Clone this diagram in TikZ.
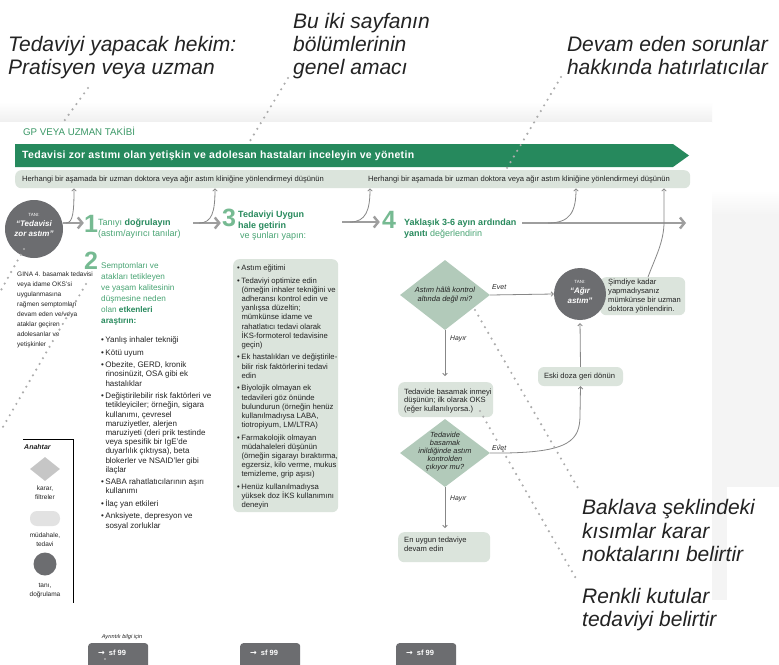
\documentclass[tikz,border=0pt]{standalone}
\usepackage{fontspec}
\setmainfont{Liberation Sans}
\newfontfamily\arrowfont{DejaVu Sans}
\usetikzlibrary{arrows.meta,shapes.geometric,calc}
\definecolor{bargreen}{RGB}{38,137,93}
\definecolor{headgreen}{RGB}{40,138,93}
\definecolor{lightgreen}{RGB}{72,164,115}
\definecolor{numgreen}{RGB}{118,186,146}
\definecolor{gpgreen}{RGB}{58,152,102}
\definecolor{boxfill}{RGB}{219,228,220}
\definecolor{diafill}{RGB}{178,202,186}
\definecolor{circgray}{RGB}{108,109,112}
\definecolor{arrowgray}{RGB}{158,158,158}
\definecolor{thingray}{RGB}{135,135,135}
\definecolor{dotgray}{RGB}{172,172,172}
\definecolor{textdark}{RGB}{35,35,35}
\definecolor{keygray}{RGB}{198,198,198}
\definecolor{keylight}{RGB}{226,226,226}
\definecolor{shadowgray}{RGB}{244,244,244}
\newcommand{\fsz}[2]{\fontsize{#1}{#2}\selectfont}
\newcommand{\bulit}{\makebox[4.3pt][l]{\textbullet}}
\newcommand{\indt}{\hspace*{4.3pt}}
\begin{document}
\begin{tikzpicture}[x=1pt,y=-1pt,
  txt/.style={inner sep=0pt, text=textdark},
  box/.style={fill=boxfill, rounded corners=6pt, inner sep=0pt},
  thinarr/.style={draw=thingray, line width=0.8pt, -{Straight Barb[length=2.2pt,width=4.6pt]}},
  stepar/.style={draw=arrowgray, line width=2.4pt, -{Straight Barb[length=4.5pt,width=11pt]}},
  dotl/.style={draw=dotgray, line width=2.4pt, line cap=round, dash pattern=on 0pt off 6.6pt},
  bignum/.style={inner sep=0pt, text=numgreen, font=\fsz{25}{25}\bfseries},
  anno/.style={inner sep=0pt, text=textdark, font=\fsz{21}{23}\itshape, anchor=base west},
  dia/.style={diamond, fill=diafill, inner sep=0pt},
  circ/.style={circle, fill=circgray, inner sep=0pt}
]
\useasboundingbox (0,0) rectangle (779,664);
\fill[white] (0,0) rectangle (779,664);
% panel shadow
\shade[top color=white, bottom color=black!6] (0,102) rectangle (712,122);
\shade[top color=white, bottom color=shadowgray] (712,190) rectangle (779,215);
\fill[shadowgray] (712,215) rectangle (779,487);
\fill[shadowgray] (712,487) rectangle (727,600);
\fill[white] (0,122) rectangle (712,664);

% top annotations
\node[anno] (a1) at (8,51.5) {Tedaviyi yapacak hekim:};
\node[anno] (a2) at (8,74.5) {Pratisyen veya uzman};
\node[anno] (b1) at (293,28.5) {Bu iki sayfanın};
\node[anno] (b2) at (293,51.5) {bölümlerinin};
\node[anno] (b3) at (293,74.5) {genel amacı};
\node[anno, anchor=base east] (r1) at (768,51.5) {Devam eden sorunlar};
\node[anno, anchor=base east] (r2) at (768,74.5) {hakkında hatırlatıcılar};

% header
\node[inner sep=0pt, anchor=west, text=gpgreen, font=\fsz{9.7}{10}] (gp) at (23,131.5) {GP VEYA UZMAN TAKİBİ};
\fill[bargreen] (15,144) -- (673,144) -- (689,155.5) -- (673,167) -- (15,167) -- cycle;
\node[inner sep=0pt, anchor=west, text=white, font=\fsz{10.5}{12}\bfseries\addfontfeatures{LetterSpace=3}] (title) at (22,155.5) {Tedavisi zor astımı olan yetişkin ve adolesan hastaları inceleyin ve yönetin};
\node[box, anchor=north west, minimum width=675pt, minimum height=18pt] (gbar) at (15,170) {};
\node[txt, anchor=west, font=\fsz{7.6}{8}] (g1) at (22,179) {Herhangi bir aşamada bir uzman doktora veya ağır astım kliniğine yönlendirmeyi düşünün};
\node[txt, anchor=west, font=\fsz{7.6}{8}] (g2) at (368,179) {Herhangi bir aşamada bir uzman doktora veya ağır astım kliniğine yönlendirmeyi düşünün};

% circle 1
\node[circ, minimum size=58pt] (c1) at (34,229) {};
\node[inner sep=0pt, text=white, font=\fsz{4.5}{5}] at (34,214.5) {TANI:};
\node[inner sep=0pt, text=white, font=\fsz{8}{9}\bfseries\itshape] at (34,224) {“Tedavisi};
\node[inner sep=0pt, text=white, font=\fsz{8}{9}\bfseries\itshape] at (34,234) {zor astım”};
\node[txt, anchor=north west, align=left, font=\fsz{6.5}{10}] (gina) at (17,272) {GINA 4. basamak tedavisi\\veya idame OKS’si\\uygulanmasına\\rağmen semptomları\\devam eden ve/veya\\ataklar geçiren\\adolesanlar ve\\yetişkinler};

% numbers
\node[bignum] (n1) at (91,224) {1};
\node[bignum] (n2) at (91,260.5) {2};
\node[bignum] (n3) at (229,217.5) {3};
\node[bignum] (n4) at (389,220) {4};

% step 1
\node[inner sep=0pt, anchor=north west, align=left, text=lightgreen, font=\fsz{9}{11}] (s1) at (98,219) {Tanıyı \textcolor{headgreen}{\bfseries doğrulayın}\\(astım/ayırıcı tanılar)};
% step 2
\node[inner sep=0pt, anchor=north west, align=left, text=lightgreen, font=\fsz{8.2}{11}] (s2) at (101,262.5) {Semptomları ve\\atakları tetikleyen\\ve yaşam kalitesinin\\düşmesine neden\\olan \textcolor{headgreen}{\bfseries etkenleri}\\\textcolor{headgreen}{\bfseries araştırın:}};
\node[txt, anchor=north west, align=left, font=\fsz{8}{9.2}] (c2list) at (101,336.6) {\bulit Yanlış inhaler tekniği\\[3.3pt]
\bulit Kötü uyum\\[3.3pt]
\bulit Obezite, GERD, kronik\\
\indt rinosinüzit, OSA gibi ek\\
\indt hastalıklar\\[3.3pt]
\bulit Değiştirilebilir risk faktörleri ve\\
\indt tetikleyiciler; örneğin, sigara\\
\indt kullanımı, çevresel\\
\indt maruziyetler, alerjen\\
\indt maruziyeti (deri prik testinde\\
\indt veya spesifik bir IgE’de\\
\indt duyarlılık çıktıysa), beta\\
\indt blokerler ve NSAID’ler gibi\\
\indt ilaçlar\\[3.3pt]
\bulit SABA rahatlatıcılarının aşırı\\
\indt kullanımı\\[3.3pt]
\bulit İlaç yan etkileri\\[3.3pt]
\bulit Anksiyete, depresyon ve\\
\indt sosyal zorluklar};

% step 3
\node[inner sep=0pt, anchor=north west, align=left, text=lightgreen, font=\fsz{9}{10.5}] (s3) at (238,211) {\textcolor{headgreen}{\bfseries Tedaviyi Uygun}\\\textcolor{headgreen}{\bfseries hale getirin}\\\hspace*{2pt}ve şunları yapın:};
\node[box, anchor=north west, minimum width=105pt, minimum height=253pt] (box3) at (233,259) {};
\node[txt, anchor=north west, align=left, font=\fsz{7.7}{9.2}] (b3list) at (237,264.7) {\bulit Astım eğitimi\\[3.3pt]
\bulit Tedaviyi optimize edin\\
\indt (örneğin inhaler tekniğini ve\\
\indt adheransı kontrol edin ve\\
\indt yanlışsa düzeltin;\\
\indt mümkünse idame ve\\
\indt rahatlatıcı tedavi olarak\\
\indt İKS-formoterol tedavisine\\
\indt geçin)\\[3.3pt]
\bulit Ek hastalıkları ve değiştirile-\\
\indt bilir risk faktörlerini tedavi\\
\indt edin\\[3.3pt]
\bulit Biyolojik olmayan ek\\
\indt tedavileri göz önünde\\
\indt bulundurun (örneğin henüz\\
\indt kullanılmadıysa LABA,\\
\indt tiotropiyum, LM/LTRA)\\[3.3pt]
\bulit Farmakolojik olmayan\\
\indt müdahaleleri düşünün\\
\indt (örneğin sigarayı bıraktırma,\\
\indt egzersiz, kilo verme, mukus\\
\indt temizleme, grip aşısı)\\[3.3pt]
\bulit Henüz kullanılmadıysa\\
\indt yüksek doz İKS kullanımını\\
\indt deneyin};

% step 4
\node[inner sep=0pt, anchor=north west, align=left, text=lightgreen, font=\fsz{9}{10.5}] (s4) at (404,219) {\textcolor{headgreen}{\bfseries Yaklaşık 3-6 ayın ardından}\\\textcolor{headgreen}{\bfseries yanıtı} değerlendirin};

% step arrows
\coordinate (a2s) at (193,223);
\coordinate (a3s) at (342,222);
\coordinate (a4s) at (522,223);
\coordinate (a4e) at (686,223);
\draw[stepar] (c1.12) -- (n1.west |- c1.12);
\draw[stepar] (a2s) -- ($(n3.west |- a2s)+(-1,0)$);
\draw[stepar] (a3s) -- ($(n4.west |- a3s)+(-2,0)$);
\draw[stepar] (a4s) -- (a4e);
% thin arrows up to the grey bar
\draw[thinarr] (66,223) .. controls (73,223) and (74,212) .. (74,0 |- gbar.south);
\draw[thinarr] (199,223) .. controls (212,223) and (215,212) .. (215,0 |- gbar.south);
\draw[thinarr] (350,222) .. controls (366,222) and (370,210) .. (370,0 |- gbar.south);
\draw[thinarr] (548,223) .. controls (570,223) and (576,212) .. (576,0 |- gbar.south);

% decision part
\node[dia, minimum width=90pt, minimum height=70pt] (d1) at (445,295) {};
\node[txt, align=center, font=\fsz{7.5}{9.5}\itshape] at (445,295) {Astım hâlâ kontrol\\altında değil mi?};
\node[box, anchor=north west, minimum width=85pt, minimum height=38pt] (sbox) at (600,277) {};
\node[circ, minimum size=52pt] (c2) at (580,294) {};
\node[inner sep=0pt, text=white, font=\fsz{4.5}{5}] at (580,282) {TANI:};
\node[inner sep=0pt, text=white, font=\fsz{8}{9}\bfseries\itshape] at (580,291) {“Ağır};
\node[inner sep=0pt, text=white, font=\fsz{8}{9}\bfseries\itshape] at (580,300.5) {astım”};
\node[txt, anchor=north west, align=left, font=\fsz{7.6}{9.1}] (stext) at (608,278.7) {Şimdiye kadar\\yapmadıysanız\\mümkünse bir uzman\\doktora yönlendirin.};
\node[txt, anchor=base west, font=\fsz{7}{8}\itshape] (evet1) at (492,289.5) {Evet};
\draw[thinarr] (d1.east) -- (c2.west);
\draw[thinarr] (648,277) .. controls (655,258) and (664,242) .. (664,222) -- (664,0 |- gbar.south);

\node[box, minimum width=85pt, minimum height=19pt] (eski) at (580.5,376.5) {};
\node[txt, font=\fsz{7.6}{9}] at (579.5,377) {Eski doza geri dönün};
\draw[thinarr, shorten >=3pt] (eski.north) -- (c2.south);

\node[txt, anchor=base west, font=\fsz{6.8}{8}\itshape] (hayir1) at (450,340.5) {Hayır};
\node[box, anchor=north west, minimum width=95pt, minimum height=35pt] (tbox) at (398,382) {};
\node[txt, anchor=north west, align=left, font=\fsz{7.6}{8.7}] (ttext) at (404,388.3) {Tedavide basamak inmeyi\\düşünün; ilk olarak OKS\\(eğer kullanılıyorsa.)};
\draw[thinarr, shorten >=6pt] (d1.south) -- (445,0 |- tbox.north);

\node[dia, minimum width=90pt, minimum height=68pt] (d2) at (445,453) {};
\node[txt, align=center, font=\fsz{7.4}{8.1}\itshape] at (445,451.5) {Tedavide\\basamak\\inildiğinde astım\\kontrolden\\çıkıyor mu?};
\node[txt, anchor=base west, font=\fsz{7}{8}\itshape] (evet2) at (492,450.5) {Evet};
\draw[thinarr] (d2.east) -- (505,453) .. controls (570,452) and (580,440) .. (580,415) -- (eski.south);

\node[txt, anchor=base west, font=\fsz{6.8}{8}\itshape] (hayir2) at (450,500.5) {Hayır};
\node[box, anchor=north west, minimum width=92pt, minimum height=30pt] (ebox) at (398,532) {};
\node[txt, anchor=north west, align=left, font=\fsz{7.6}{9}] (etext) at (404,536.7) {En uygun tedaviye\\devam edin};
\draw[thinarr, shorten >=4pt] (d2.south) -- (445,0 |- ebox.north);

% key
\draw[line width=0.7pt, black] (23,439) -- (73,439) -- (73,603);
\node[txt, anchor=west, font=\fsz{7}{8}\bfseries\itshape] (key) at (24,446.5) {Anahtar};
\node[diamond, fill=keygray, inner sep=0pt, minimum width=30pt, minimum height=24pt] (kd) at (45,469) {};
\node[txt, align=center, font=\fsz{6.5}{9}] at (45,492.5) {karar,\\filtreler};
\node[fill=keylight, rounded corners=7pt, inner sep=0pt, minimum width=30pt, minimum height=15pt] (kr) at (45,518.5) {};
\node[txt, align=center, font=\fsz{6.5}{9}] at (45,540) {müdahale,\\tedavi};
\node[circ, minimum size=23pt] (kc) at (45,564) {};
\node[txt, align=center, font=\fsz{6.5}{9}] at (45,591) {tanı,\\doğrulama};

% page references
\node[txt, font=\fsz{5.6}{6}\itshape] (ayr) at (122,637.5) {Ayrıntılı bilgi için};
\foreach \xx/\nm in {88/sf1,240/sf2,396/sf3}{
  \node[fill=circgray, rounded corners=3pt, inner sep=0pt, anchor=north west, minimum width=60pt, minimum height=30pt] (\nm) at (\xx,643) {};
  \node[inner sep=0pt, anchor=west, text=white, font=\fsz{7.5}{8}\bfseries] at (\xx+10,653) {{\arrowfont\fsz{8}{8}→}\hspace{4pt}sf 99};
}

% bottom-right annotations
\node[anno] (k1) at (582,514.5) {Baklava şeklindeki};
\node[anno] (k2) at (582,538.5) {kısımlar karar};
\node[anno] (k3) at (582,561.5) {noktalarını belirtir};
\node[anno] (k4) at (582,603.5) {Renkli kutular};
\node[anno] (k5) at (582,626.5) {tedaviyi belirtir};

% dotted leader lines
\draw[dotl] (88,88) -- (62,124);
\draw[dotl] (288,78) -- (250,141);
\draw[dotl] (561,77) -- (507,168);
\draw[dotl] (24,249) -- (0,292);
\draw[dotl] (86,284) -- (0,432);
\draw[dotl] (475,310) -- (578,488);
\draw[dotl] (480,411) -- (578,582);
\fill[dotgray] (105,659) circle (1.2pt);
\end{tikzpicture}
\end{document}
